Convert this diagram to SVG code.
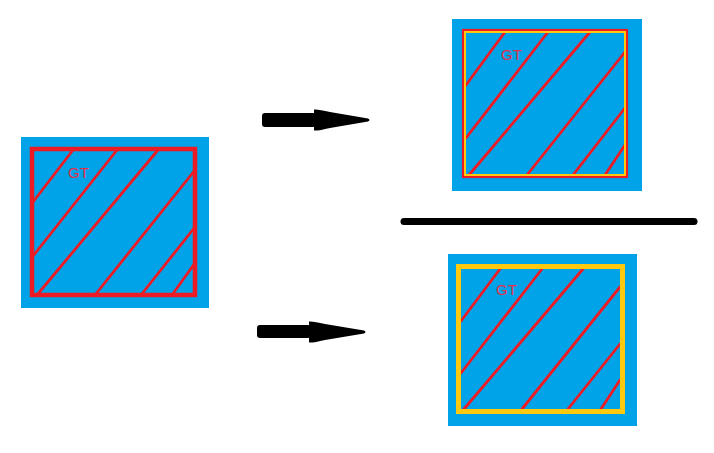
<svg xmlns="http://www.w3.org/2000/svg" width="714" height="453" viewBox="0 0 714 453">
<style>
.bg{fill:#00a2e8}
.hatch{stroke:#ed1c24;stroke-width:2.8;fill:none;stroke-linecap:round}
.redb{fill:none;stroke:#ed1c24}
.yelb{fill:none;stroke:#ffc90e}
.lbl{font-family:"Liberation Sans",Arial,sans-serif;font-size:15px;fill:#e0304a}
.arrow{fill:#000}
</style>
<rect width="714" height="453" fill="#fff"/>
<g id="left-box">
  <rect class="bg" x="21" y="137" width="188" height="171"/>
  <path class="hatch" d="M33,202 L73,150 M33,256 L117,150 M37,295 L158,150 M95,295 L195,170 M141,295 L195,227 M172,295 L195,263"/>
  <rect class="redb" x="32" y="149" width="163" height="146" stroke-width="4.5"/>
  <text class="lbl" x="68" y="178">GT</text>
</g>
<g id="top-right-box">
  <rect class="bg" x="452" y="19" width="190" height="172"/>
  <path class="hatch" d="M466,85 L505,32 M466,138 L548,32 M469,175 L590,32 M527,175 L625,52 M573,175 L625,108 M605,175 L625,145"/>
  <rect class="redb" x="463" y="30" width="164" height="147" stroke-width="2.2"/>
  <rect class="yelb" x="465" y="32" width="160" height="143" stroke-width="2"/>
  <text class="lbl" x="501" y="60">GT</text>
</g>
<g id="bottom-right-box">
  <rect class="bg" x="448" y="254" width="189" height="172"/>
  <path class="hatch" d="M461,321 L500,269 M461,373 L542,269 M464,409 L583,269 M522,409 L620,287 M568,409 L620,344 M601,409 L620,380"/>
  <rect class="yelb" x="458.5" y="266.5" width="164" height="145" stroke-width="5"/>
  <text class="lbl" x="496" y="295">GT</text>
</g>
<g id="connectors">
  <g id="arrow-top">
    <rect class="arrow" x="262" y="113" width="54" height="14" rx="3"/>
    <path class="arrow" d="M314,109.5 Q318,109 330,112 L368,118.5 Q371,120 368,121.5 L330,128 Q318,131 314,130.5 Z"/>
  </g>
  <g id="arrow-bottom">
    <rect class="arrow" x="257" y="325" width="54" height="13" rx="3"/>
    <path class="arrow" d="M309,321.5 Q313,321 325,324 L364,330.5 Q367,332 364,333.5 L325,340 Q313,343 309,342.5 Z"/>
  </g>
  <line id="divider" x1="404" y1="221.5" x2="694" y2="221.5" stroke="#000" stroke-width="7" stroke-linecap="round"/>
</g>
</svg>
